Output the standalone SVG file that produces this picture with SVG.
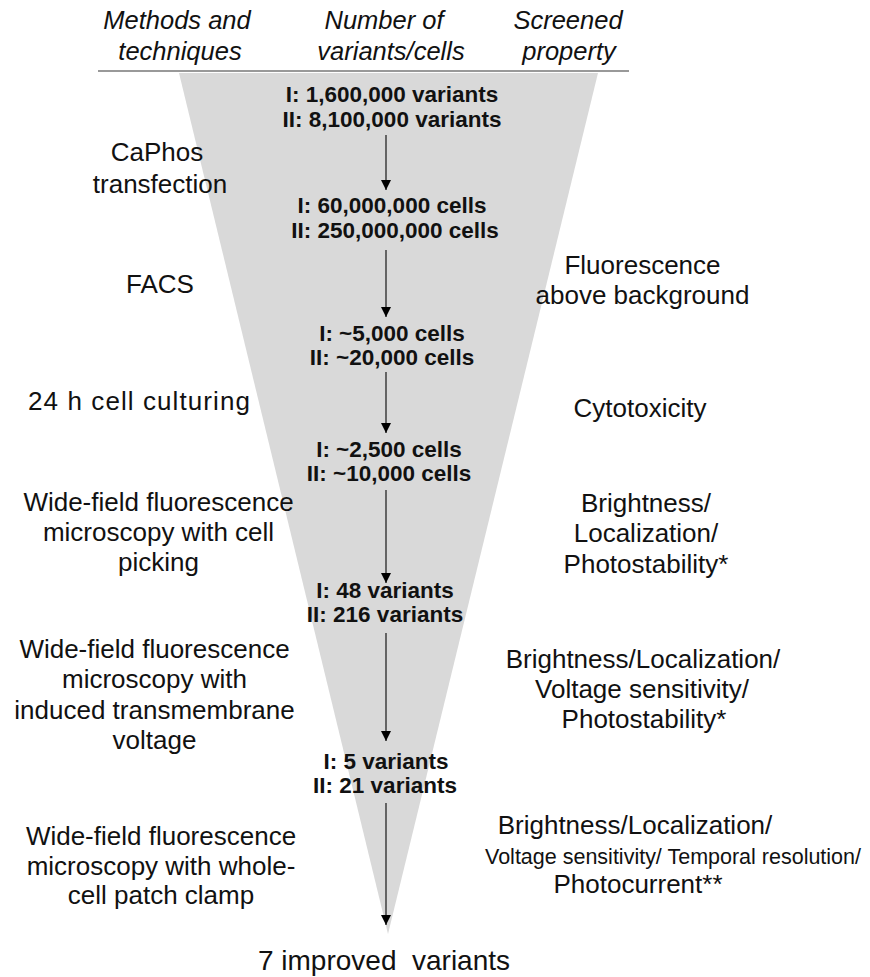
<svg xmlns="http://www.w3.org/2000/svg" width="870" height="977" viewBox="0 0 870 977">
<defs>
<marker id="ah" markerWidth="10" markerHeight="10" refX="10" refY="5" orient="auto" markerUnits="userSpaceOnUse">
<path d="M0,0 L10,5 L0,10 Z" fill="#000"/>
</marker>
<style>
text{font-family:"Liberation Sans",Arial,sans-serif;fill:#111;text-anchor:middle}
.h{font-style:italic;font-size:25.5px}
.n{font-weight:bold;font-size:22.5px}
.t{font-size:26px}
.c{stroke:#333;stroke-width:1.4;fill:none;marker-end:url(#ah)}
</style>
</defs>
<rect width="870" height="977" fill="#fff"/>
<polygon id="funnel" points="179,73 598,73 388,934" fill="#d9d9d9"/>
<g id="header">
<text class="h" x="177" y="29">Methods and</text>
<text class="h" x="180" y="60">techniques</text>
<text class="h" x="384" y="29">Number of</text>
<text class="h" x="391" y="60">variants/cells</text>
<text class="h" x="568" y="29">Screened</text>
<text class="h" x="569" y="60">property</text>
<line x1="98" y1="71" x2="629" y2="71" stroke="#777" stroke-width="1.5"/>
</g>
<g id="connectors">
<line class="c" x1="386" y1="135" x2="386" y2="190"/>
<line class="c" x1="386" y1="250" x2="386" y2="317"/>
<line class="c" x1="386" y1="372" x2="386" y2="433"/>
<line class="c" x1="386" y1="490" x2="386" y2="583"/>
<line class="c" x1="386" y1="633" x2="386" y2="741"/>
<line class="c" x1="386" y1="803" x2="386" y2="925"/>
</g>
<g id="n1"><text class="n" x="392" y="102">I: 1,600,000 variants</text><text class="n" x="392" y="127">II: 8,100,000 variants</text></g>
<g id="n2"><text class="n" x="392" y="213">I: 60,000,000 cells</text><text class="n" x="395" y="238">II: 250,000,000 cells</text></g>
<g id="n3"><text class="n" x="392" y="341">I: ~5,000 cells</text><text class="n" x="392" y="365">II: ~20,000 cells</text></g>
<g id="n4"><text class="n" x="389" y="457">I: ~2,500 cells</text><text class="n" x="389" y="481">II: ~10,000 cells</text></g>
<g id="n5"><text class="n" x="385" y="598">I: 48 variants</text><text class="n" x="385" y="622">II: 216 variants</text></g>
<g id="n6"><text class="n" x="386" y="769">I: 5 variants</text><text class="n" x="385" y="793">II: 21 variants</text></g>
<g id="n7"><text class="t" style="font-size:28px" x="384" y="970">7 improved&#160; variants</text></g>
<g id="m1"><text class="t" x="157" y="161">CaPhos</text><text class="t" x="160" y="193">transfection</text></g>
<g id="m2"><text class="t" x="160" y="293">FACS</text></g>
<g id="m3"><text class="t" x="139" y="410" textLength="222" lengthAdjust="spacing">24 h cell culturing</text></g>
<g id="m4"><text class="t" x="158.5" y="511">Wide-field fluorescence</text><text class="t" x="158.5" y="541">microscopy with cell</text><text class="t" x="158.5" y="571">picking</text></g>
<g id="m5"><text class="t" x="154.5" y="658">Wide-field fluorescence</text><text class="t" x="154.5" y="688">microscopy with</text><text class="t" x="154.5" y="719">induced transmembrane</text><text class="t" x="154.5" y="749">voltage</text></g>
<g id="m6"><text class="t" x="161" y="845">Wide-field fluorescence</text><text class="t" x="161" y="875">microscopy with whole-</text><text class="t" x="161" y="904">cell patch clamp</text></g>
<g id="p1"><text class="t" x="642.5" y="274">Fluorescence</text><text class="t" x="642.5" y="304">above background</text></g>
<g id="p2"><text class="t" x="640" y="417">Cytotoxicity</text></g>
<g id="p3"><text class="t" x="646" y="512">Brightness/</text><text class="t" x="646" y="542">Localization/</text><text class="t" x="646" y="573">Photostability*</text></g>
<g id="p4"><text class="t" x="643" y="668">Brightness/Localization/</text><text class="t" x="642" y="698">Voltage sensitivity/</text><text class="t" x="644" y="728">Photostability*</text></g>
<g id="p5"><text class="t" x="635" y="834">Brightness/Localization/</text><text class="t" style="font-size:22px" x="673" y="864" textLength="376" lengthAdjust="spacingAndGlyphs">Voltage sensitivity/ Temporal resolution/</text><text class="t" x="638" y="893">Photocurrent**</text></g>
</svg>
